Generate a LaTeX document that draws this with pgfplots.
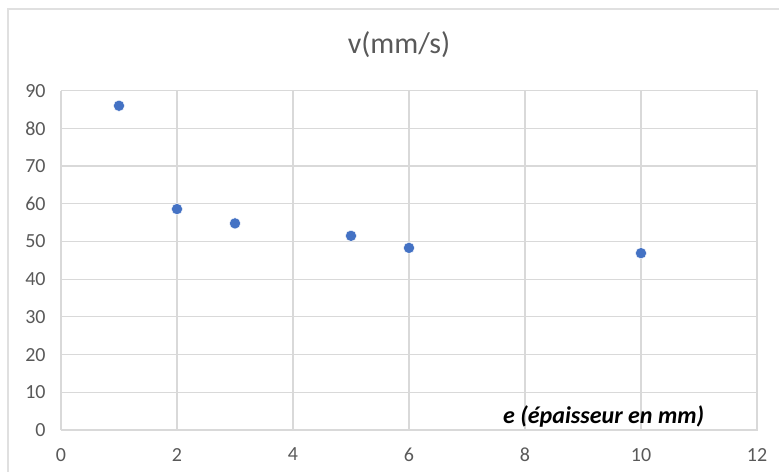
\documentclass[border=0pt]{standalone}
\usepackage{fontspec}
\setmainfont{Carlito}
\usepackage{pgfplots}
\pgfplotsset{compat=1.18}
\definecolor{gridc}{HTML}{D9D9D9}
\definecolor{txtc}{HTML}{595959}
\definecolor{markc}{HTML}{4472C4}
\definecolor{framec}{HTML}{E0E0E0}
\begin{document}
\begin{tikzpicture}
\path[use as bounding box] (0pt,0pt) rectangle (584.25pt,354pt);
\draw[framec, line width=1.5pt] (6pt,0pt) -- (6pt,347.25pt) -- (584.25pt,347.25pt);
\node[txtc, font=\fontsize{22.5}{27}\selectfont] at (299.25pt,320.25pt) {v(mm/s)};
\begin{axis}[
  at={(45.75pt,31.5pt)}, anchor=south west,
  scale only axis,
  width=522pt, height=254.5pt,
  xmin=0, xmax=12, ymin=0, ymax=90,
  xtick={0,2,...,12}, ytick={0,10,...,90},
  xmajorgrids, ymajorgrids,
  major grid style={gridc, line width=0.9pt},
  axis line style={draw=none},
  tick style={draw=none},
  ticklabel style={txtc, font=\fontsize{15}{17}\selectfont},
  /pgf/number format/assume math mode=true,
  xticklabel style={yshift=-10pt},
  yticklabel style={xshift=-8pt},
  clip=false,
]
\draw[gridc, line width=0.9pt] (axis cs:0,0) -- (axis cs:12,0) -- (axis cs:12,90) -- (axis cs:0,90);
\addplot[only marks, mark=*, mark size=4.2pt, mark options={fill=markc, draw=white, line width=0.3pt}] coordinates {
(1,86) (2,58.6) (3,54.8) (5,51.5) (6,48.3) (10,46.9)
};
\node[font=\fontsize{18}{21}\selectfont\bfseries\itshape, anchor=west, inner sep=0pt] at (axis cs:7.62,3.45) {e (épaisseur en mm)};
\end{axis}
\end{tikzpicture}
\end{document}
